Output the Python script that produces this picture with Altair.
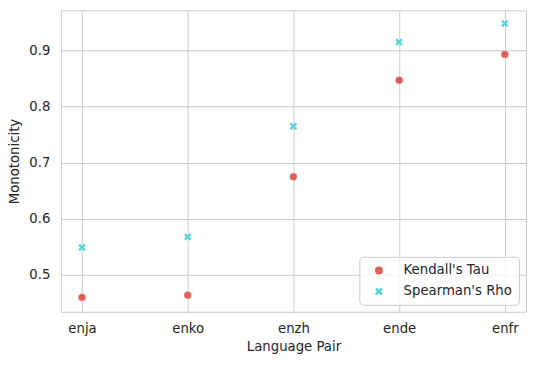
import altair as alt
import pandas as pd

pairs = ["enja", "enko", "enzh", "ende", "enfr"]
kendall = [0.460, 0.464, 0.675, 0.847, 0.893]
spearman = [0.549, 0.568, 0.765, 0.915, 0.948]
series = ["Kendall's Tau", "Spearman's Rho"]
colors = ["#db5f57", "#57d3db"]

rows = []
for p, k in zip(pairs, kendall):
    rows.append({"pair": p, "value": k, "metric": series[0]})
for p, s in zip(pairs, spearman):
    rows.append({"pair": p, "value": s, "metric": series[1]})
df = pd.DataFrame(rows)

x_shape = "M-1,-0.5L-0.5,-1L0,-0.5L0.5,-1L1,-0.5L0.5,0L1,0.5L0.5,1L0,0.5L-0.5,1L-1,0.5L-0.5,0Z"

FONT = "DejaVu Sans"
TXT = "#262626"

chart = alt.Chart(df).mark_point(
    filled=True, opacity=1, size=62, stroke="white", strokeWidth=0.5
).encode(
    x=alt.X("pair:N", sort=pairs, title="Language Pair",
            scale=alt.Scale(type="point", padding=0.2),
            axis=alt.Axis(labelAngle=0, ticks=False, tickSize=0, labelPadding=10,
                          titlePadding=5, domain=False, grid=True)),
    y=alt.Y("value:Q", title="Monotonicity",
            scale=alt.Scale(domain=[0.4345, 0.9715], nice=False, zero=False),
            axis=alt.Axis(values=[0.5, 0.6, 0.7, 0.8, 0.9], format=".1f",
                          ticks=False, tickSize=0, labelPadding=11,
                          titlePadding=7, domain=False, grid=True)),
    color=alt.Color("metric:N", scale=alt.Scale(domain=series, range=colors),
                    legend=alt.Legend(title=None, orient="bottom-right", offset=7)),
    shape=alt.Shape("metric:N", scale=alt.Scale(domain=series, range=["circle", x_shape]),
                    legend=alt.Legend(title=None, orient="bottom-right", offset=7)),
).properties(
    width=466, height=302,
    autosize=alt.AutoSizeParams(type="none"),
    padding={"left": 53, "top": 2, "right": 2, "bottom": 45},
).configure_view(
    stroke="#cccccc", strokeWidth=1
).configure_axis(
    gridColor="#cccccc", gridWidth=1, gridOpacity=1,
    labelFont=FONT, labelFontSize=13.3, labelColor=TXT,
    titleFont=FONT, titleFontSize=13.3, titleColor=TXT, titleFontWeight="normal",
).configure_legend(
    labelFont=FONT, labelFontSize=13.3, labelColor=TXT,
    fillColor="rgba(255,255,255,0.8)", strokeColor="#cccccc", cornerRadius=4,
    padding=7, symbolOffset=6, labelOffset=18, rowPadding=7, symbolSize=62,
    symbolStrokeWidth=0,
)

chart.save("out.html", embed_options={"renderer": "svg", "actions": False})
